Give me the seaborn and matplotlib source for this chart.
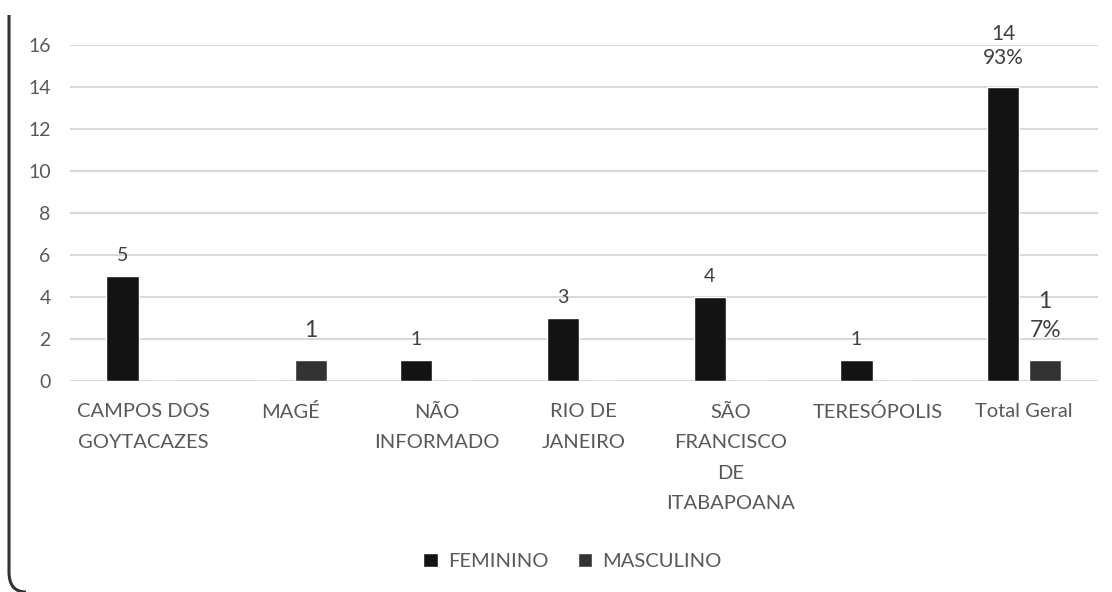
import numpy as np
import pandas as pd
import matplotlib.pyplot as plt
import seaborn as sns
from matplotlib.path import Path as MplPath
from matplotlib.patches import PathPatch, Patch

# ---------------- datos ----------------
municipios = ['CAMPOS DOS GOYTACAZES', 'MAGÉ', 'NÃO INFORMADO', 'RIO DE JANEIRO',
              'SÃO FRANCISCO DE ITABAPOANA', 'TERESÓPOLIS', 'Total Geral']
rotulos_x = ['CAMPOS DOS\nGOYTACAZES', 'MAGÉ', 'NÃO\nINFORMADO', 'RIO DE\nJANEIRO',
             'SÃO\nFRANCISCO\nDE\nITABAPOANA', 'TERESÓPOLIS', 'Total Geral']
feminino = [5, 0, 1, 3, 4, 1, 14]
masculino = [0, 1, 0, 0, 0, 0, 1]
pct_total = ['93%', '7%']
series = ['FEMININO', 'MASCULINO']
cores = ['#141414', '#333333']

df = pd.DataFrame({
    'Municipio': municipios * 2,
    'Sexo': [series[0]] * len(municipios) + [series[1]] * len(municipios),
    'Qtd': feminino + masculino,
})

sns.set_style('white')
plt.rcParams['font.family'] = ['Lato', 'DejaVu Sans']

fig = plt.figure(figsize=(11.12, 5.92), dpi=100)
ax = fig.add_axes([0.063, 0.356, 0.924, 0.568])

sns.barplot(data=df, x='Municipio', y='Qtd', hue='Sexo', order=municipios,
            hue_order=series, palette=cores, width=0.57, gap=0.23,
            saturation=1, ax=ax, legend=False)

ax.set_ylim(0, 16)
ax.set_yticks(range(0, 17, 2))
ax.set_xlim(-0.5, len(municipios) - 0.5)
ax.yaxis.grid(True, color='#d9d9d9', linewidth=1.5)
ax.set_axisbelow(True)
for s in ax.spines.values():
    s.set_visible(False)
ax.set_xlabel('')
ax.set_ylabel('')
ax.set_xticks(range(len(municipios)))
ax.set_xticklabels(rotulos_x, linespacing=1.97)
ax.tick_params(axis='both', length=0, labelcolor='#595959')
ax.tick_params(axis='x', pad=16, labelsize=14.5)
ax.tick_params(axis='y', pad=14, labelsize=14)

# ---------------- rótulos de dados ----------------
for k, (cont, vals) in enumerate(zip(ax.containers, [feminino, masculino])):
    labs = []
    for i, v in enumerate(vals):
        if v == 0:
            labs.append('')
        elif municipios[i] == 'Total Geral':
            labs.append(f'{v}\n{pct_total[k]}')
        else:
            labs.append(str(v))
    pad = 9 if k == 0 else 14
    txts = ax.bar_label(cont, labels=labs, padding=pad, fontsize=14 if k == 0 else 16.5,
                        color='#404040', linespacing=1.2 if k == 0 else 1.45,
                        clip_on=False)
    if k == 0:
        txts[-1].set_fontsize(15)
        txts[-1].xyann = (0, 14)

# ---------------- legenda ----------------
handles = [Patch(facecolor=c, label=s) for c, s in zip(cores, series)]
fig.legend(handles=handles, loc='center', bbox_to_anchor=(0.515, 0.052), ncol=2,
           frameon=False, fontsize=14.5, labelcolor='#595959', handlelength=0.7,
           handleheight=0.7, handletextpad=0.5, columnspacing=1.5)

# ---------------- borda ----------------
W, H = 1112, 592
verts = [(9 / W, 1 - 15 / H), (9 / W, 1 - 572 / H), (9 / W, 1 - 592 / H), (26 / W, 1 - 592 / H)]
codes = [MplPath.MOVETO, MplPath.LINETO, MplPath.CURVE3, MplPath.CURVE3]
fig.patches.append(PathPatch(MplPath(verts, codes), transform=fig.transFigure,
                             facecolor='none', edgecolor='#333333', linewidth=2.2))

plt.savefig('out.png', dpi=100)
